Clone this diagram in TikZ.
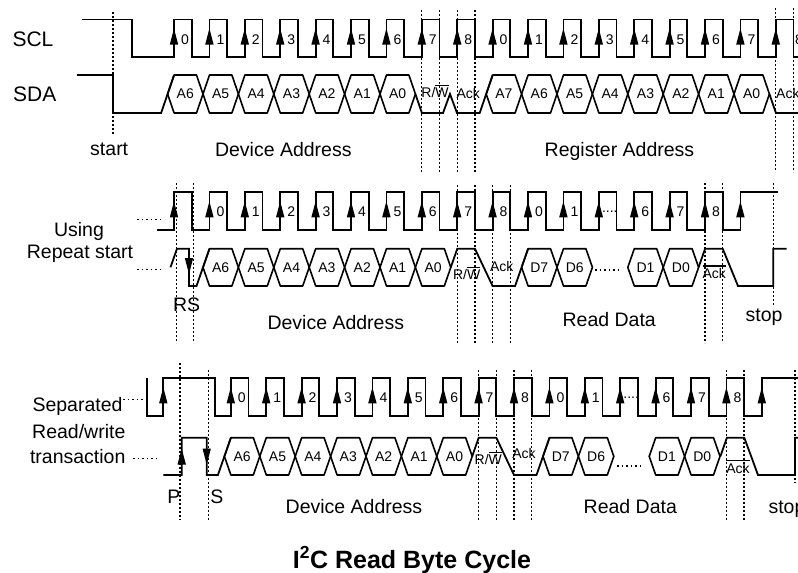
\documentclass[tikz,border=0pt]{standalone}
\usepackage{fontspec}
\setmainfont{Liberation Sans}
\newcommand\upar[2]{\fill (#1,#2) -- ({#1-4.2},{#2+16}) -- ({#1+4.2},{#2+16}) -- cycle;}
\newcommand\dnar[2]{\fill (#1,{#2+16}) -- ({#1-4.2},#2) -- ({#1+4.2},#2) -- cycle;}
\newcommand\mkhex[5]{%
  \draw[hexl] (#1,{(#3+#4)/2}) -- ({#1+6.5},#3) -- ({#2-6.5},#3) -- (#2,{(#3+#4)/2}) -- ({#2-6.5},#4) -- ({#1+6.5},#4) -- cycle;
  \node[lbl] at ({(#1+#2)/2},{(#3+#4)/2}) {#5};}
\newcommand\ovl[1]{\leavevmode\vbox{\hrule height 1.1pt\kern 1.8pt\hbox{#1}}}
\newcommand\fourdots{....}
\begin{document}
\begin{tikzpicture}[x=1pt,y=-1pt,
  wave/.style={line width=1.8pt},
  hexl/.style={line width=1.6pt, line join=bevel},
  vdot/.style={line width=1.3pt, dash pattern=on 2pt off 2pt},
  hdot/.style={line width=1.2pt, dash pattern=on 1.5pt off 3pt},
  lbl/.style={font=\fontsize{14}{16}\selectfont, inner sep=0pt},
  big/.style={font=\fontsize{19.5}{23}\selectfont, inner sep=0pt},
  sig/.style={font=\fontsize{21}{25}\selectfont, inner sep=0pt}]
\useasboundingbox (0,0) rectangle (798,573);

% ================= Row 1 =================
\node[sig] (scl) at (33,39.5) {SCL};
\node[sig] (sda) at (34.7,94.3) {SDA};
\draw[wave] (82,19.5) -- (132,19.5) -- (132,57) -- (174,57)
  \foreach \k in {0,...,17} { -- ++(0,-37.5) -- ++(17.7,0) -- ++(0,37.5) -- ++(17.7,0) };
\foreach \l [count=\k from 0] in {0,1,2,3,4,5,6,7,8,0,1,2,3,4,5,6,7}
  {\pgfmathsetmacro\x{174+35.4*\k}\upar{\x}{28.5}\node[lbl] at ({\x+11},39.5) {\l};}
\upar{775.8}{28.5}
\node[lbl] at (799,39.5) {8};
% SDA
\draw[wave] (77,75) -- (113,75) -- (113,113) -- (161.1,113) -- (174.1,75);
\foreach \l [count=\i from -1] in {A6,A5,A4,A3,A2,A1,A0}
  {\pgfmathsetmacro\ca{203+35.4*\i}\pgfmathsetmacro\cb{\ca+35.4}\mkhex{\ca}{\cb}{75}{113}{\l}}
\draw[wave] (415.4,94) -- (421.9,113) -- (443,113) -- (450,94) -- (457,113) -- (479.7,113) -- (492.7,75);
\foreach \l [count=\i from 8] in {A7,A6,A5,A4,A3,A2,A1,A0}
  {\pgfmathsetmacro\ca{203+35.4*\i}\pgfmathsetmacro\cb{\ca+35.4}\mkhex{\ca}{\cb}{75}{113}{\l}}
\draw[wave] (769.4,94) -- (775.9,113) -- (805,113);
\node[lbl] at (435,91.7) {R/\ovl{W}};
\node[lbl] at (468.3,93.3) {Ack};
\node[lbl,anchor=west] at (776,93.3) {Ack};
% dotted
\draw[vdot] (113,12) -- (113,135);
\foreach \x in {421.8,439.5,457.2,474.9} \draw[vdot] (\x,10) -- (\x,172);
\foreach \x in {775.8,793.5} \draw[vdot] (\x,8) -- (\x,172);
\node[big,anchor=base] at (109.2,155.5) {start};
\node[big,anchor=base] at (283.3,156.7) {Device Address};
\node[big,anchor=base] at (619.5,156.7) {Register Address};

% ================= Row 2 =================
\node[big,anchor=base] at (79,236.7) {Using};
\node[big,anchor=base] at (80,258.3) {Repeat start};
\draw[hdot] (137,219.3) -- (163,219.3);
\draw[hdot] (137,269.3) -- (163,269.3);
\draw[wave] (156.7,230) -- (174,230)
  \foreach \k in {0,...,15} { -- ++(0,-37.7) -- ++(17.7,0) -- ++(0,37.7) -- ++(17.7,0) }
  -- ++(0,-37.7) -- (778.3,192.3);
\foreach \k in {0,...,16} {\pgfmathsetmacro\x{174+35.4*\k}\upar{\x}{201.3}}
\foreach \l [count=\k from 1] in {0,1,2,3,4,5,6,7,8,0,1,\fourdots,6,7,8}
  {\pgfmathsetmacro\x{174+35.4*\k}\node[lbl] at ({\x+11},212) {\l};}
% SDA
\draw[wave] (170.5,267.3) -- (177,248.7) -- (189,248.7) -- (189,286) -- (196.5,286) -- (209.5,248.7);
\dnar{189}{258}
\foreach \l [count=\i from 0] in {A6,A5,A4,A3,A2,A1,A0}
  {\pgfmathsetmacro\ca{203+35.4*\i}\pgfmathsetmacro\cb{\ca+35.4}\mkhex{\ca}{\cb}{248.7}{286}{\l}}
\draw[wave] (450.8,267.3) -- (457.3,248.7) -- (474.9,248.7) -- (492.6,286) -- (515.1,286) -- (528.1,248.7);
\foreach \l [count=\i from 9] in {D7,D6}
  {\pgfmathsetmacro\ca{203+35.4*\i}\pgfmathsetmacro\cb{\ca+35.4}\mkhex{\ca}{\cb}{248.7}{286}{\l}}
\draw[hdot] (595,270) -- (622,270);
\foreach \l [count=\i from 12] in {D1,D0}
  {\pgfmathsetmacro\ca{203+35.4*\i}\pgfmathsetmacro\cb{\ca+35.4}\mkhex{\ca}{\cb}{248.7}{286}{\l}}
\draw[wave] (698.6,267.3) -- (705.1,248.7) -- (722.7,248.7) -- (738,286) -- (773.3,286) -- (773.3,248.7) -- (786.7,248.7);
\node[lbl] at (466.7,273.3) {R/\ovl{W}};
\node[lbl] at (501.7,266.5) {Ack};
\node[lbl,anchor=base] at (714.3,278.5) {\ovl{Ack}};
% dotted
\foreach \x in {176.7,193.3} \draw[vdot] (\x,183) -- (\x,343);
\foreach \x in {457.2,474.9,492.6,510.3} \draw[vdot] (\x,185) -- (\x,343);
\foreach \x in {705,722.7} \draw[vdot] (\x,183) -- (\x,343);
\draw[vdot] (773.3,183) -- (773.3,305);
\node[big,anchor=base] at (186.7,311.7) {RS};
\node[big,anchor=base] at (335.8,329.3) {Device Address};
\node[big,anchor=base] at (609.2,326.7) {Read Data};
\node[big,anchor=base] at (764,321.7) {stop};

% ================= Row 3 =================
\node[big,anchor=base] at (77.5,411.7) {Separated};
\node[big,anchor=base] at (78.8,438.3) {Read/write};
\node[big,anchor=base] at (77.7,463.3) {transaction};
\draw[hdot] (123.3,399.3) -- (150,399.3);
\draw[hdot] (133.3,458.3) -- (159.3,458.3);
\draw[wave] (146.7,378.3) -- (146.7,416) -- (163.3,416) -- (163.3,378.3) -- (215,378.3) -- (215,416) -- (230.8,416)
  \foreach \k in {0,...,14} { -- ++(0,-37.7) -- ++(17.7,0) -- ++(0,37.7) -- ++(17.7,0) }
  -- ++(0,-37.7) -- (805,378.3);
\upar{163.3}{387.3}
\foreach \k in {0,...,15} {\pgfmathsetmacro\x{230.8+35.4*\k}\upar{\x}{387.3}}
\foreach \l [count=\k from 0] in {0,1,2,3,4,5,6,7,8,0,1,\fourdots,6,7,8}
  {\pgfmathsetmacro\x{230.8+35.4*\k}\node[lbl] at ({\x+11},398) {\l};}
% SDA
\draw[wave] (163.3,475) -- (181.7,475) -- (181.7,437.7) -- (206.7,437.7) -- (206.7,475) -- (217.9,475) -- (230.9,437.7);
\upar{181.7}{448.5}
\dnar{206.7}{448.5}
\foreach \l [count=\i from -1] in {A6,A5,A4,A3,A2,A1,A0}
  {\pgfmathsetmacro\ca{259.8+35.4*\i}\pgfmathsetmacro\cb{\ca+35.4}\mkhex{\ca}{\cb}{437.7}{475}{\l}}
\draw[wave] (472.2,456.3) -- (478.7,437.7) -- (496.3,437.7) -- (514,475) -- (536.5,475) -- (549.5,437.7);
\foreach \l [count=\i from 8] in {D7,D6}
  {\pgfmathsetmacro\ca{259.8+35.4*\i}\pgfmathsetmacro\cb{\ca+35.4}\mkhex{\ca}{\cb}{437.7}{475}{\l}}
\draw[hdot] (617,466) -- (643,466);
\foreach \l [count=\i from 11] in {D1,D0}
  {\pgfmathsetmacro\ca{259.8+35.4*\i}\pgfmathsetmacro\cb{\ca+35.4}\mkhex{\ca}{\cb}{437.7}{475}{\l}}
\draw[wave] (720.4,456.3) -- (726.9,437.7) -- (744.3,437.7) -- (758,475) -- (795,475) -- (795,437.7) -- (805,437.7);
\node[lbl] at (488.3,458.3) {R/\ovl{W}};
\node[lbl] at (524,453.3) {Ack};
\node[lbl,anchor=base] at (738,473) {\ovl{Ack}};
% dotted
\draw[vdot] (180,363) -- (180,520);
\draw[vdot] (208.3,370) -- (208.3,521.7);
\foreach \x in {478.6,496.3,514,531.7,726.4,744.1} \draw[vdot] (\x,370) -- (\x,521.7);
\draw[vdot] (795,370) -- (795,483);
\node[big,anchor=base] at (174,503.3) {P};
\node[big,anchor=base] at (217,503.3) {S};
\node[big,anchor=base] at (354,513.3) {Device Address};
\node[big,anchor=base] at (630.3,513.3) {Read Data};
\node[big,anchor=base west] at (768.3,513.3) {stop};

% title
\node[font=\bfseries\fontsize{25}{30}\selectfont, anchor=base, inner sep=0pt] (title) at (412,568) {I\textsuperscript{2}C Read Byte Cycle};
\end{tikzpicture}
\end{document}
